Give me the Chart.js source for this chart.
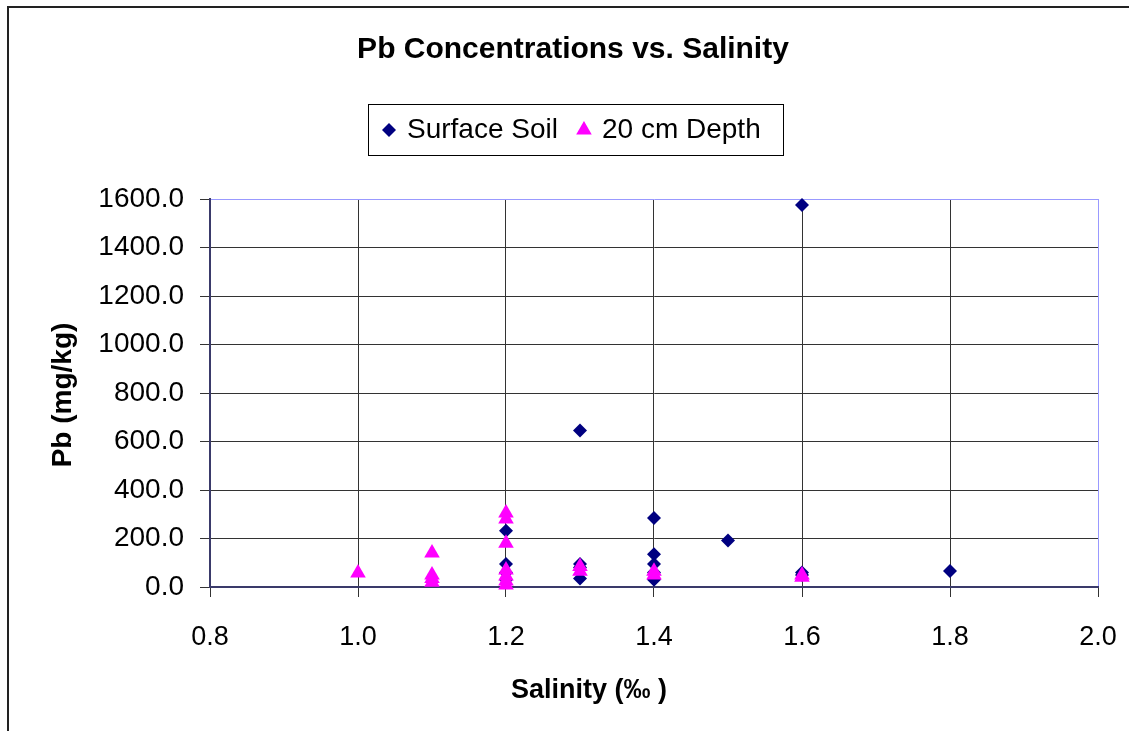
<!DOCTYPE html>
<html>
<head>
<meta charset="utf-8">
<script src="https://cdn.jsdelivr.net/npm/chart.js@4.4.1/dist/chart.umd.min.js"></script>
<style>
html, body { margin: 0; padding: 0; background: #fff; }
#wrap { position: relative; width: 1129px; height: 731px; overflow: hidden; }
#frame { position: absolute; left: 7px; top: 6px; width: 1200px; height: 800px; border: 2px solid #222; }
#c { position: absolute; left: 0; top: 0; }
</style>
</head>
<body>
<div id="wrap">
  <div id="frame"></div>
  <canvas id="c" width="1129" height="731"></canvas>
</div>
<script>
// salinity (‰) and Pb (mg/kg)
const surfaceSalinity = [1.2, 1.2, 1.2, 1.2, 1.3, 1.3, 1.3, 1.3, 1.4, 1.4, 1.4, 1.4, 1.4, 1.5, 1.6, 1.6, 1.6, 1.8];
const surfacePb       = [232, 95, 60, 30, 645, 95, 80, 35, 285, 135, 95, 60, 30, 192, 1575, 60, 50, 66];

const depthSalinity = [1.0, 1.1, 1.1, 1.1, 1.1, 1.2, 1.2, 1.2, 1.2, 1.2, 1.2, 1.2, 1.3, 1.3, 1.4, 1.4, 1.6, 1.6];
const depthPb       = [58, 140, 50, 35, 20, 305, 280, 180, 70, 45, 25, 8, 85, 65, 65, 50, 50, 40];

const xTicks = [0.8, 1.0, 1.2, 1.4, 1.6, 1.8, 2.0];
const yTicks = [0, 200, 400, 600, 800, 1000, 1200, 1400, 1600];

const chartTitle = 'Pb Concentrations vs. Salinity';
const xTitle = 'Salinity (‰ )';
const yTitle = 'Pb (mg/kg)';

const FONT = '"Liberation Sans", Arial, sans-serif';
const NAVY = '#000080';
const PINK = '#ff00ff';

function toPoints(xs, ys) {
    return xs.map((x, i) => ({ x: x, y: ys[i] }));
}

function marker(ctx, style, x, y, r, color) {
    ctx.save();
    ctx.fillStyle = color;
    ctx.beginPath();
    if (style === 'rectRot') {
        ctx.moveTo(x, y - r);
        ctx.lineTo(x + r, y);
        ctx.lineTo(x, y + r);
        ctx.lineTo(x - r, y);
    } else {
        const h = r * Math.sqrt(3) / 2;
        ctx.moveTo(x, y - r);
        ctx.lineTo(x + h, y + r / 2);
        ctx.lineTo(x - h, y + r / 2);
    }
    ctx.closePath();
    ctx.fill();
    ctx.restore();
}

// title, legend box and axis titles
const decorations = {
    id: 'decorations',
    afterDraw(chart) {
        const ctx = chart.ctx;
        ctx.save();
        ctx.fillStyle = '#000';
        ctx.textBaseline = 'middle';

        ctx.font = 'bold 30px ' + FONT;
        ctx.textAlign = 'center';
        ctx.fillText(chartTitle, 573, 50);

        // legend
        ctx.strokeStyle = '#000';
        ctx.lineWidth = 1;
        ctx.strokeRect(368.5, 104.5, 415, 51);
        ctx.font = '28px ' + FONT;
        ctx.textAlign = 'left';
        let x = 389;
        chart.data.datasets.slice().sort((a, b) => a.legendIndex - b.legendIndex).forEach(ds => {
            marker(ctx, ds.pointStyle, x, 130, ds.pointStyle === 'rectRot' ? 7 : 9, ds.backgroundColor);
            ctx.fillText(ds.label, x + 18, 130);
            x = x + 18 + ctx.measureText(ds.label).width + 26;
        });

        ctx.font = 'bold 27px ' + FONT;
        ctx.textAlign = 'center';
        ctx.fillText(xTitle, 589, 691);

        ctx.translate(63, 395);
        ctx.rotate(-Math.PI / 2);
        ctx.font = 'bold 28px ' + FONT;
        ctx.fillText(yTitle, 0, 0);
        ctx.restore();
    }
};

new Chart(document.getElementById('c'), {
    type: 'scatter',
    data: {
        datasets: [
            {
                label: 'Surface Soil',
                legendIndex: 0,
                order: 2,
                data: toPoints(surfaceSalinity, surfacePb),
                pointStyle: 'rectRot',
                pointRadius: 7,
                backgroundColor: NAVY,
                borderColor: NAVY,
                borderWidth: 0,
                clip: false
            },
            {
                label: '20 cm Depth',
                legendIndex: 1,
                order: 1,
                data: toPoints(depthSalinity, depthPb),
                pointStyle: 'triangle',
                pointRadius: 9,
                backgroundColor: PINK,
                borderColor: PINK,
                borderWidth: 0,
                clip: false
            }
        ]
    },
    options: {
        responsive: false,
        animation: false,
        layout: { padding: { top: 199, right: 31, left: 0, bottom: 0 } },
        plugins: {
            legend: { display: false },
            title: { display: false },
            tooltip: { enabled: false }
        },
        scales: {
            x: {
                type: 'linear',
                min: xTicks[0],
                max: xTicks[xTicks.length - 1],
                afterBuildTicks: s => { s.ticks = xTicks.map(v => ({ value: v })); },
                afterFit: s => { s.height = 144; s.paddingLeft = 0; s.paddingRight = 0; },
                ticks: {
                    font: { family: FONT, size: 27 },
                    color: '#000',
                    padding: 24,
                    maxRotation: 0,
                    callback: v => Number(v).toFixed(1)
                },
                grid: {
                    color: c => (c.tick && c.tick.value === 2.0) ? '#9999ff' : '#333',
                    tickColor: '#333',
                    tickLength: 10,
                    lineWidth: 1
                },
                border: { color: '#3a3a6a', width: 2 }
            },
            y: {
                type: 'linear',
                min: yTicks[0],
                max: yTicks[yTicks.length - 1],
                afterBuildTicks: s => { s.ticks = yTicks.map(v => ({ value: v })); },
                afterFit: s => { s.width = 210; s.paddingTop = 0; s.paddingBottom = 0; },
                ticks: {
                    font: { family: FONT, size: 28 },
                    color: '#000',
                    padding: 16,
                    callback: v => Number(v).toFixed(1)
                },
                grid: {
                    color: c => (c.tick && c.tick.value === 1600) ? '#9999ff' : '#333',
                    tickColor: '#333',
                    tickLength: 10,
                    lineWidth: 1
                },
                border: { color: '#3a3a6a', width: 2 }
            }
        }
    },
    plugins: [decorations]
});
</script>
</body>
</html>
